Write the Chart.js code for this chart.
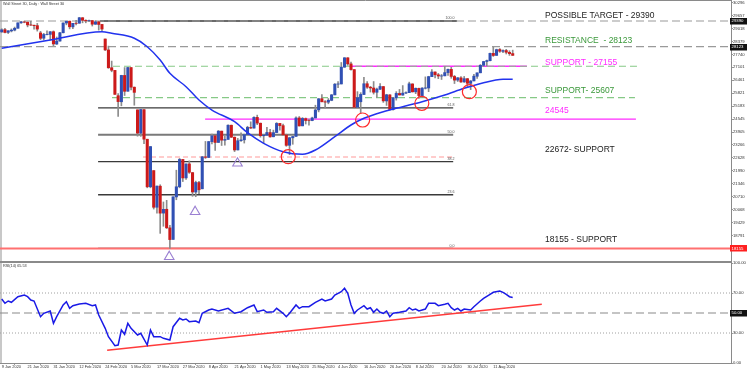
<!DOCTYPE html>
<html>
<head>
<meta charset="utf-8">
<script src="https://cdn.jsdelivr.net/npm/chart.js@4.4.1/dist/chart.umd.min.js"></script>
<style>
  html, body { margin: 0; padding: 0; background: #fff; }
  canvas { display: block; }
</style>
</head>
<body>
<canvas id="chart" width="750" height="372"></canvas>
<script>
// bar index of each date label (Good Friday 10 Apr has no bar)
const xTickBars = [0, 8, 16, 24, 32, 40, 48, 56, 64, 72, 80, 88, 96, 104, 112, 120, 128, 136, 144, 152];
const xTickLabels = ['9 Jan 2020', '21 Jan 2020', '31 Jan 2020', '12 Feb 2020', '24 Feb 2020', '5 Mar 2020',
  '17 Mar 2020', '27 Mar 2020', '8 Apr 2020', '21 Apr 2020', '1 May 2020', '13 May 2020', '25 May 2020',
  '4 Jun 2020', '16 Jun 2020', '26 Jun 2020', '8 Jul 2020', '20 Jul 2020', '30 Jul 2020', '11 Aug 2020'];

const priceTicks = [30296, 29657, 29018, 28379, 27740, 27101, 26461, 25821, 25183, 24545,
  23905, 23266, 22628, 21990, 21346, 20710, 20068, 19429, 18791];
const rsiTicks = [100, 70, 30, 0];

// daily candles, 9 Jan 2020 .. 19 Aug 2020
const opens = [
  28850, 28960, 28830, 28900, 28940, 29030, 29300, 29345, 29330, 29200,
  29180, 29160, 28800, 28540, 28720, 28730, 28860, 28250, 28400, 28810,
  29290, 29380, 29100, 29280, 29280, 29550, 29420, 29400, 29410, 29230,
  29350, 29220, 28500, 27960, 27080, 26950, 25700, 25400, 26700, 25920,
  27090, 26120, 25000, 23850, 25010, 23550, 21200, 22000, 20190, 21230,
  19900, 20090, 19170, 18600, 20700, 21200, 22550, 21640, 22330, 21900,
  20940, 21410, 21100, 22680, 22650, 23430, 23720, 23390, 23950, 23500,
  23540, 24240, 23650, 23020, 23480, 23520, 23780, 24130, 24100, 24630,
  24340, 23720, 23750, 23880, 23670, 23880, 24330, 24220, 23760, 23250,
  23620, 23690, 24600, 24210, 24570, 24470, 24470, 24600, 25000, 25550,
  25400, 25380, 25470, 25740, 26270, 26280, 27110, 27570, 27270, 26990,
  25130, 25400, 25760, 26290, 26120, 26080, 25870, 26020, 26150, 25440,
  25740, 25010, 25590, 25810, 25730, 25830, 25850, 26280, 25890, 26060,
  25700, 26070, 26080, 26640, 26870, 26730, 26670, 26680, 26840, 27000,
  26650, 26470, 26580, 26380, 26540, 26310, 26430, 26660, 26830, 27200,
  27390, 27430, 27790, 27690, 27980, 27890, 27930, 27840, 27780];
const highs = [
  29010, 29030, 28910, 29000, 29090, 29300, 29375, 29380, 29340, 29375,
  29190, 29270, 28880, 28780, 28900, 28870, 28900, 28600, 28830, 29300,
  29380, 29390, 29280, 29420, 29568, 29560, 29450, 29440, 29420, 29410,
  29370, 29220, 28500, 28150, 27410, 26950, 25800, 26710, 27090, 27100,
  27090, 26130, 25000, 25020, 25020, 23550, 23190, 22000, 21240, 21300,
  20450, 20530, 19300, 20710, 22020, 22600, 22550, 22330, 22480, 21910,
  21480, 21470, 22700, 23440, 23440, 23800, 23730, 23980, 23950, 23700,
  24260, 24250, 23660, 23590, 23870, 23800, 24190, 24410, 24660, 24740,
  24350, 23760, 24140, 24040, 24000, 24370, 24340, 24300, 23800, 23650,
  23690, 24650, 24670, 24620, 24600, 24540, 24640, 25230, 25560, 25760,
  25460, 25560, 25760, 26300, 26400, 27340, 27580, 27580, 27360, 26990,
  25900, 25850, 26610, 26400, 26160, 26400, 26080, 26300, 26160, 25770,
  25750, 25600, 25900, 26010, 26200, 25890, 26370, 26290, 26080, 26080,
  26100, 26630, 26660, 26990, 26880, 26800, 26750, 27150, 27010, 27100,
  26700, 26600, 26640, 26650, 26550, 26450, 26760, 26830, 27240, 27400,
  27460, 27800, 28100, 28000, 28030, 27960, 27990, 27920, 27950];
const lows = [
  28830, 28800, 28770, 28850, 28900, 29030, 29270, 29300, 29100, 29170,
  28980, 28890, 28470, 28450, 28700, 28450, 28170, 28230, 28390, 28800,
  29200, 29000, 29010, 29200, 29280, 29300, 29300, 29360, 29140, 29220,
  28940, 28890, 27930, 27050, 26880, 25760, 24680, 25200, 25710, 25920,
  25990, 25230, 23700, 23690, 23330, 21150, 21150, 20100, 19900, 18900,
  19250, 19140, 18155, 18600, 20560, 21150, 21460, 21570, 21860, 20730,
  20710, 20860, 21100, 22600, 22640, 23320, 23000, 23390, 23240, 23260,
  23540, 23630, 22940, 23020, 23440, 23360, 23780, 24080, 24100, 24270,
  23650, 23360, 23750, 23650, 23670, 23880, 24000, 23760, 23200, 22790,
  23300, 23690, 24200, 24210, 24300, 24250, 24460, 24600, 24900, 25390,
  25100, 25300, 25450, 25740, 26100, 26280, 27100, 27200, 26960, 25100,
  25100, 24850, 25750, 26060, 25880, 25780, 25620, 26000, 25370, 25220,
  24990, 24980, 25480, 25730, 25720, 25800, 25850, 25880, 25800, 25570,
  25620, 26030, 25900, 26640, 26580, 26540, 26500, 26680, 26700, 26560,
  26300, 26400, 26350, 26360, 26100, 26000, 26430, 26550, 26830, 27150,
  27170, 27420, 27640, 27690, 27840, 27820, 27760, 27690, 27690];
const closes = [
  28956, 28824, 28907, 28940, 29030, 29298, 29348, 29330, 29196, 29186,
  29160, 28990, 28535, 28723, 28734, 28859, 28256, 28399, 28808, 29290,
  29379, 29103, 29276, 29270, 29551, 29423, 29398, 29410, 29232, 29348,
  29219, 28992, 27961, 27081, 26957, 25766, 25409, 26703, 25917, 27091,
  26121, 25865, 23851, 25018, 23553, 21200, 23186, 20189, 21237, 19899,
  20087, 19174, 18592, 20705, 21200, 22552, 21637, 22328, 21917, 20944,
  21413, 21053, 22680, 22654, 23434, 23719, 23390, 23950, 23504, 23538,
  24242, 23650, 23019, 23475, 23516, 23775, 24134, 24102, 24634, 24346,
  23724, 23750, 23883, 23665, 23876, 24331, 24222, 23765, 23248, 23625,
  23685, 24598, 24207, 24576, 24474, 24465, 24600, 24995, 25548, 25401,
  25383, 25475, 25742, 26270, 26282, 27111, 27572, 27272, 26990, 25128,
  25606, 25763, 26290, 26120, 26080, 25871, 26025, 26156, 25445, 25746,
  25016, 25595, 25813, 25735, 25827, 25850, 26287, 25890, 26067, 25706,
  26075, 26086, 26643, 26870, 26735, 26672, 26681, 26840, 27005, 26652,
  26470, 26584, 26379, 26540, 26314, 26428, 26664, 26828, 27201, 27387,
  27433, 27791, 27686, 27976, 27896, 27931, 27844, 27778, 27692];

// 50 day moving average
const maBars = [0, 15, 31, 34, 41, 45, 49, 52, 57, 61, 65, 72, 76, 81, 87, 93, 97, 103, 108, 112, 118, 124, 130, 137, 143, 149, 155, 158];
const maValues = [28041, 28452, 28861, 28782, 28535, 28120, 27463, 26806, 26144, 25487, 24993, 24415, 23872, 23349,
  22934, 22805, 23017, 23674, 24252, 24583, 24909, 25156, 25403, 25734, 26066, 26342, 26510, 26515];

// RSI(14)
const rsiBars = [0, 1, 2, 3, 5, 7, 8, 9, 10, 12, 13, 15, 16, 17, 19, 20, 21, 22, 24, 26, 28, 29, 30, 32, 33, 35, 36,
  37, 38, 39, 40, 42, 43, 45, 46, 47, 49, 50, 52, 53, 55, 56, 57, 58, 60, 61, 62, 64, 65, 67, 70, 72, 74, 76, 78,
  79, 81, 82, 84, 85, 87, 88, 89, 91, 92, 93, 95, 97, 99, 100, 102, 103, 105, 106, 107, 108, 109, 110, 112, 113,
  114, 115, 116, 117, 118, 119, 120, 121, 123, 125, 126, 127, 128, 129, 131, 132, 134, 135, 137, 138, 139, 140,
  141, 142, 143, 145, 146, 148, 149, 151, 152, 154, 155, 156, 157, 158];
const rsiValues = [64, 59.7, 62, 60.7, 66.3, 68, 66.3, 63, 62, 46.3, 49.7, 52, 39.7, 46.3, 58, 61.3, 54.7, 57.3, 59, 59.7,
  57.3, 58, 48, 34.7, 26.3, 17.3, 18, 33, 28.7, 39.7, 34.7, 28, 29.7, 18, 33, 26.3, 26.3, 24.7, 23, 36.3, 44.7, 43,
  44, 41.3, 42, 40.3, 49.7, 53, 54, 52, 54.7, 49.7, 51.3, 55.3, 58, 51.3, 53, 50.7, 51.3, 54.7, 49.7, 46.3, 49.7, 58,
  54.7, 56.3, 56.3, 60.7, 64, 62, 64, 68, 71.3, 74.7, 69.7, 58, 49.7, 53, 57.3, 54, 55.3, 50.7, 54, 50.7, 49.7, 52,
  46.3, 49.7, 50.7, 52, 55.3, 53, 54, 52, 54, 59.7, 59.7, 57.3, 58.7, 59.7, 55.3, 53, 54.7, 52, 54, 53, 56.3, 62,
  64.7, 68.7, 70.7, 72, 70.7, 68.7, 66.3, 65.53];
const rsiTrendBars = [32.6, 167];
const rsiTrendValues = [12.7, 58.7];

// fibonacci retracement 18155 -> 29390
const fibLevels = ['100.0', '61.8', '50.0', '38.2', '23.6', '0.0'];
const fibPrices = [29390, 25098, 23772, 22447, 20806, 18155];

// marked levels
const targetPrice = 29390;
const resistancePrice = 28123;
const supportPrices = [27155, 25607, 24545, 22672, 18155];

const noteTexts = ['POSSIBLE TARGET - 29390', 'RESISTANCE  - 28123', 'SUPPORT - 27155', 'SUPPORT- 25607',
  '24545', '22672- SUPPORT', '18155 - SUPPORT'];
const notePrices = [29637, 28417, 27350, 25932, 24959, 23017, 18571];

// touches of the moving average, and swing lows
const touchBars = [88.6, 111.6, 129.9, 144.6];
const touchPrices = [22686, 24499, 25324, 25897];
const lowMarkBars = [51.8, 59.8, 72.9];
const lowMarkPrices = [17746, 19969, 22360];

const X_MIN = -0.53, X_MAX = 225.5;
const BULL = '#3050b4', BEAR = '#cc1a1a', WICK = '#8c8c8c';
const GREEN = '#3a983a', MAGENTA = '#ff2bff';

Chart.defaults.font.family = '"Liberation Sans", Arial, sans-serif';

const idx = closes.map((c, i) => i);

function hline(price, from, to, color, width, dash, axis) {
  return {
    type: 'line', yAxisID: axis || 'y', order: 6,
    data: [{x: from, y: price}, {x: to, y: price}],
    borderColor: color, borderWidth: width, borderDash: dash || [],
    pointRadius: 0, tension: 0
  };
}

const candleColor = c => closes[c.dataIndex] >= opens[c.dataIndex] ? BULL : BEAR;

const datasets = [
  // level lines
  hline(targetPrice, X_MIN, X_MAX, '#9a9a9a', 1.2, [8, 4]),
  hline(resistancePrice, X_MIN, X_MAX, '#9a9a9a', 1.2, [8, 4]),
  hline(supportPrices[0], 34.4, 196.5, '#86c986', 1.2, [7, 4]),
  hline(supportPrices[1], 34.1, 195.8, '#86c986', 1.2, [7, 4]),
  hline(supportPrices[0], 107.7, 162.4, MAGENTA, 1.4),
  hline(supportPrices[2], 62.9, 196.1, MAGENTA, 1.4),
  hline(supportPrices[3], 43.7, 139.6, '#ff9a9a', 1.1, [5, 3]),
  hline(supportPrices[4], X_MIN, X_MAX, '#ff7070', 2),
  ...fibPrices.map((p, i) => hline(p, i === 0 ? 30.4 : 29.8, i === 0 ? 140.8 : 139.6,
    i === 2 ? '#7a7a7a' : '#3a3a3a', i === 2 ? 2 : 1.3)),
  // candles
  {
    type: 'bar', yAxisID: 'y', order: 5, grouped: false, barThickness: 1,
    data: idx.map(i => ({x: i, y: [lows[i], highs[i]]})),
    backgroundColor: WICK
  },
  {
    type: 'bar', yAxisID: 'y', order: 4, grouped: false, barThickness: 2.4,
    data: idx.map(i => ({x: i, y: [opens[i], closes[i]]})),
    backgroundColor: candleColor
  },
  // moving average
  {
    type: 'line', yAxisID: 'y', order: 3,
    data: maBars.map((b, i) => ({x: b, y: maValues[i]})),
    borderColor: '#2233ee', borderWidth: 1.5, pointRadius: 0, cubicInterpolationMode: 'monotone'
  },
  {
    type: 'line', yAxisID: 'y', order: 2, showLine: false,
    data: touchBars.map((b, i) => ({x: b, y: touchPrices[i]})),
    pointStyle: 'circle', pointRadius: 7, pointBorderWidth: 1.2,
    pointBorderColor: '#ff2a2a', pointBackgroundColor: 'rgba(0,0,0,0)'
  },
  {
    type: 'line', yAxisID: 'y', order: 2, showLine: false,
    data: lowMarkBars.map((b, i) => ({x: b, y: lowMarkPrices[i]})),
    pointStyle: 'triangle', pointRadius: 5.5, pointBorderWidth: 1.1,
    pointBorderColor: '#9b80d2', pointBackgroundColor: 'rgba(0,0,0,0)'
  },
  // RSI panel
  hline(70, X_MIN, X_MAX, '#a0a0a0', 1, [1, 2], 'rsi'),
  hline(30, X_MIN, X_MAX, '#a0a0a0', 1, [1, 2], 'rsi'),
  hline(50, X_MIN, X_MAX, '#8a8a8a', 1.2, [8, 4], 'rsi'),
  {
    type: 'line', yAxisID: 'rsi', order: 1,
    data: rsiBars.map((b, i) => ({x: b, y: rsiValues[i]})),
    borderColor: '#1a1ae6', borderWidth: 1.5, pointRadius: 0, tension: 0
  },
  {
    type: 'line', yAxisID: 'rsi', order: 1,
    data: rsiTrendBars.map((b, i) => ({x: b, y: rsiTrendValues[i]})),
    borderColor: '#ff3b3b', borderWidth: 1.5, pointRadius: 0, tension: 0
  }
];

function tagBox(ctx, y, text, bg) {
  ctx.fillStyle = bg;
  ctx.fillRect(730, Math.round(y) - 3, 17, 6.5);
  ctx.fillStyle = '#fff';
  ctx.font = '4.3px "Liberation Sans", Arial, sans-serif';
  ctx.textAlign = 'left';
  ctx.textBaseline = 'middle';
  ctx.fillText(text, 731.5, y + 0.3);
}

const overlay = {
  id: 'overlay',
  beforeDatasetsDraw(chart) {
    const ctx = chart.ctx;
    ctx.save();
    ctx.fillStyle = '#c8c8c8';
    ctx.fillRect(0, 0, 2, chart.chartArea.bottom);
    ctx.restore();
  },
  afterDatasetsDraw(chart) {
    const {ctx, scales} = chart;
    const x = scales.x, y = scales.y;
    ctx.save();
    ctx.textBaseline = 'middle';
    ctx.textAlign = 'left';
    ctx.font = '8.5px "Liberation Sans", Arial, sans-serif';
    const noteColors = ['#222', GREEN, MAGENTA, GREEN, MAGENTA, '#222', '#222'];
    noteTexts.forEach((t, i) => {
      ctx.fillStyle = noteColors[i];
      ctx.fillText(t, x.getPixelForValue(168), y.getPixelForValue(notePrices[i]));
    });
    ctx.font = '3.6px "Liberation Sans", Arial, sans-serif';
    ctx.fillStyle = '#555';
    ctx.textAlign = 'right';
    ctx.textBaseline = 'bottom';
    fibLevels.forEach((t, i) => {
      ctx.fillText(t, x.getPixelForValue(140), y.getPixelForValue(fibPrices[i]) - 1);
    });
    ctx.restore();
  },
  afterDraw(chart) {
    const {ctx, scales, chartArea} = chart;
    const y = scales.y, r = scales.rsi;
    ctx.save();
    ctx.strokeStyle = '#8a8a8a';
    ctx.lineWidth = 1;
    ctx.beginPath();
    ctx.moveTo(0, 0.5);
    ctx.lineTo(chartArea.right, 0.5);
    ctx.stroke();
    ctx.lineWidth = 2;
    ctx.beginPath();
    ctx.moveTo(0, r.top);
    ctx.lineTo(chartArea.right, r.top);
    ctx.stroke();

    tagBox(ctx, y.getPixelForValue(targetPrice), String(targetPrice), '#111');
    tagBox(ctx, y.getPixelForValue(resistancePrice), String(resistancePrice), '#111');
    tagBox(ctx, y.getPixelForValue(supportPrices[4]), String(supportPrices[4]), '#ff2020');
    tagBox(ctx, r.getPixelForValue(50), '50.00', '#111');

    ctx.fillStyle = '#333';
    ctx.font = '3.8px "Liberation Sans", Arial, sans-serif';
    ctx.textAlign = 'left';
    ctx.textBaseline = 'middle';
    ctx.fillText('Wall Street 30, Daily : Wall Street 30', 3, 4);
    ctx.fillText('RSI(14) 65.53', 3, r.top + 4);
    ctx.restore();
  }
};

new Chart(document.getElementById('chart'), {
  type: 'line',
  data: {datasets},
  plugins: [overlay],
  options: {
    responsive: false,
    animation: false,
    devicePixelRatio: 1,
    layout: {padding: 0, autoPadding: false},
    plugins: {legend: {display: false}, tooltip: {enabled: false}},
    scales: {
      x: {
        type: 'linear', min: X_MIN, max: X_MAX, offset: false,
        afterBuildTicks: s => { s.ticks = xTickBars.map(v => ({value: v})); },
        afterFit: s => { s.height = 9; s.paddingLeft = 0; s.paddingRight = 0; },
        ticks: {
          autoSkip: false, maxRotation: 0, minRotation: 0, align: 'start', padding: 0,
          color: '#333', font: {size: 3.9},
          callback: v => xTickLabels[xTickBars.indexOf(v)] || ''
        },
        grid: {drawOnChartArea: false, tickLength: 2, color: '#999'},
        border: {color: '#8a8a8a'}
      },
      y: {
        position: 'right', stack: 'panes', stackWeight: 262,
        min: 17485, max: 30427,
        afterBuildTicks: s => { s.ticks = priceTicks.map(v => ({value: v})); },
        afterFit: s => { s.width = 19; s.paddingTop = 0; s.paddingBottom = 0; },
        ticks: {autoSkip: false, padding: 0, color: '#333', font: {size: 4.2}, callback: v => String(v)},
        grid: {drawOnChartArea: false, tickLength: 2, color: '#999'},
        border: {color: '#8a8a8a'}
      },
      rsi: {
        position: 'right', stack: 'panes', stackWeight: 101,
        min: 0, max: 101,
        afterBuildTicks: s => { s.ticks = rsiTicks.map(v => ({value: v})); },
        afterFit: s => { s.width = 19; s.paddingTop = 0; s.paddingBottom = 0; },
        ticks: {autoSkip: false, padding: 0, color: '#333', font: {size: 4.2}, callback: v => v.toFixed(2)},
        grid: {drawOnChartArea: false, tickLength: 2, color: '#999'},
        border: {color: '#8a8a8a'}
      }
    }
  }
});
</script>
</body>
</html>
